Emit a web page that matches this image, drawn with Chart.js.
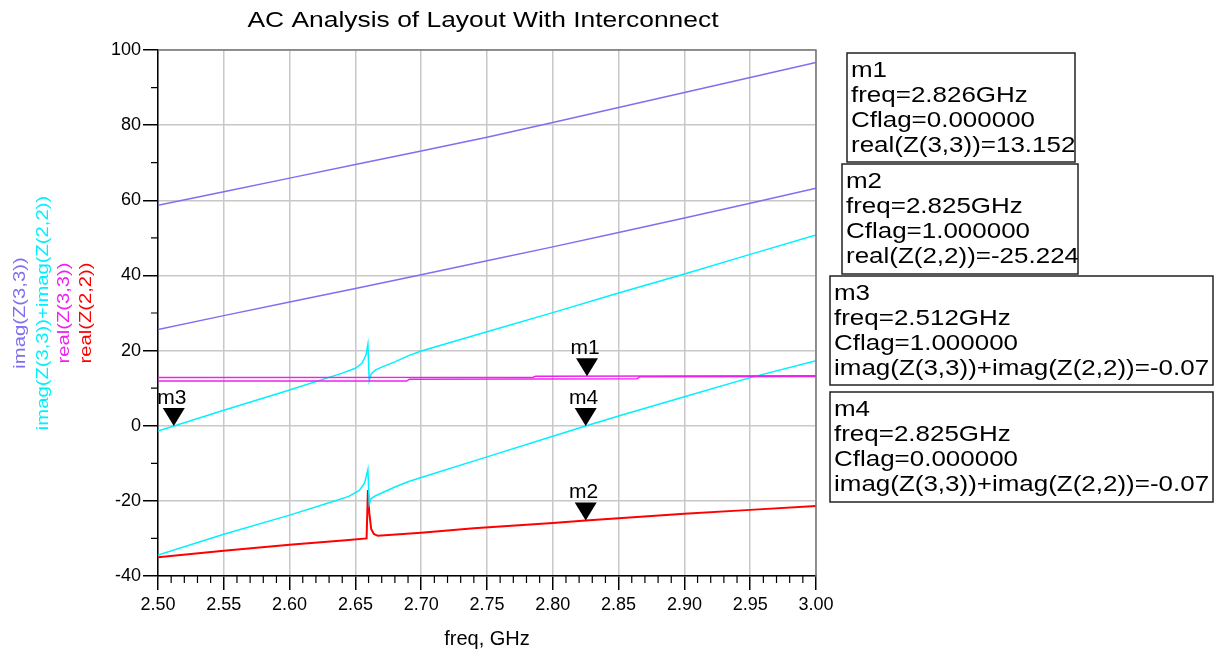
<!DOCTYPE html>
<html>
<head>
<meta charset="utf-8">
<script src="https://cdn.jsdelivr.net/npm/chart.js@4"></script>
<style>
  body { margin: 0; background: #fff; }
  #wrap { width: 1222px; height: 653px; }
</style>
</head>
<body>
<div id="wrap"><canvas id="acChart" width="1222" height="653"></canvas></div>
<script>
// Chart text
const chartTitle = 'AC Analysis of Layout With Interconnect';
const xTitle = 'freq, GHz';
const legendLabels = ['imag(Z(3,3))', 'imag(Z(3,3))+imag(Z(2,2))', 'real(Z(3,3))', 'real(Z(2,2))'];

// imag(Z(3,3)) for both Cflag values
const freqCoarse = [2.50, 2.55, 2.60, 2.65, 2.70, 2.75, 2.80, 2.85, 2.90, 2.95, 3.00];
const imag33Cf0 = [58.7, 62.3, 65.9, 69.5, 73.1, 76.8, 80.7, 84.7, 88.7, 92.7, 96.7];
const imag33Cf1 = [25.6, 29.3, 32.9, 36.5, 40.2, 43.9, 47.6, 51.4, 55.3, 59.2, 63.2];

// imag(Z(3,3))+imag(Z(2,2))
const sumFreqCf1 = [2.50, 2.55, 2.60, 2.64, 2.65, 2.655, 2.658, 2.6595, 2.6605, 2.662, 2.665, 2.67, 2.68, 2.69, 2.70, 2.75, 2.80, 2.85, 2.90, 2.95, 3.00];
const sumCf1 = [-1.4, 4.1, 9.5, 14.0, 15.3, 16.6, 18.8, 21.7, 12.0, 13.8, 14.8, 15.6, 17.0, 18.6, 19.9, 25.0, 30.1, 35.3, 40.4, 45.6, 50.8];
const sumFreqCf0 = [2.50, 2.55, 2.60, 2.63, 2.645, 2.653, 2.657, 2.6595, 2.6605, 2.662, 2.665, 2.67, 2.68, 2.69, 2.70, 2.75, 2.80, 2.825, 2.85, 2.90, 2.95, 3.00];
const sumCf0 = [-34.4, -28.9, -23.8, -20.5, -18.8, -17.2, -15.2, -11.6, -20.9, -19.4, -18.7, -17.9, -16.3, -14.9, -13.8, -8.3, -2.8, -0.07, 2.6, 7.7, 12.8, 17.3];

// real(Z(3,3))
const real33FreqCf0 = [2.50, 2.785, 2.787, 3.00];
const real33Cf0 = [12.8, 12.9, 13.15, 13.3];
const real33FreqCf1 = [2.50, 2.689, 2.691, 2.864, 2.866, 3.00];
const real33Cf1 = [11.9, 11.9, 12.4, 12.5, 13.0, 13.1];

// real(Z(2,2))
const real22Freq = [2.50, 2.55, 2.60, 2.645, 2.6585, 2.6595, 2.6605, 2.662, 2.664, 2.667, 2.70, 2.74, 2.80, 2.825, 2.85, 2.90, 2.95, 3.00];
const real22 = [-35.0, -33.3, -31.7, -30.4, -30.0, -17.1, -23.0, -27.5, -28.8, -29.3, -28.5, -27.3, -25.9, -25.2, -24.6, -23.4, -22.4, -21.4];

// markers
const markerNames = ['m1', 'm2', 'm3', 'm4'];
const markerFreq = [2.826, 2.825, 2.512, 2.825];
const markerCflag = ['0.000000', '1.000000', '1.000000', '0.000000'];
const markerExpr = ['real(Z(3,3))', 'real(Z(2,2))', 'imag(Z(3,3))+imag(Z(2,2))', 'imag(Z(3,3))+imag(Z(2,2))'];
const markerValue = [13.152, -25.224, -0.07, -0.07];

const colPurple = '#7f6ff0';
const colCyan = '#00f0ff';
const colMagenta = '#f020f0';
const colRed = '#ff0000';
const FONT = "'Liberation Sans', Arial, sans-serif";

const pts = (xs, ys) => xs.map((x, i) => ({ x: x, y: ys[i] }));

const line = (data, color, width) => ({
    data: data,
    borderColor: color,
    backgroundColor: color,
    borderWidth: width || 1.5,
    pointRadius: 0,
    tension: 0,
    fill: false
});

// stretched text helper (the original renders wider glyphs)
const wideText = (ctx, text, x, y, size, sx, align) => {
    ctx.save();
    ctx.font = size + 'px ' + FONT;
    ctx.textAlign = align || 'left';
    ctx.translate(x, y);
    ctx.scale(sx, 1);
    ctx.fillText(text, 0, 0);
    ctx.restore();
};

const boxLayout = [
    { x: 847, y: 53, w: 228, h: 109 },
    { x: 842, y: 164, w: 236, h: 110 },
    { x: 830, y: 276, w: 383, h: 109 },
    { x: 830, y: 392, w: 383, h: 110 }
];

const decorPlugin = {
    id: 'decor',
    afterDraw(chart) {
        const ctx = chart.ctx;
        const a = chart.chartArea;
        const xs = chart.scales.x;
        const ys = chart.scales.y;

        // frame: top and right in gray
        ctx.save();
        ctx.strokeStyle = '#777';
        ctx.lineWidth = 1.5;
        ctx.beginPath();
        ctx.moveTo(a.left, a.top);
        ctx.lineTo(a.right, a.top);
        ctx.lineTo(a.right, a.bottom);
        ctx.stroke();

        // minor ticks
        ctx.strokeStyle = '#000';
        ctx.lineWidth = 1.2;
        ctx.beginPath();
        for (let i = 0; i <= 50; i++) {
            if (i % 5 === 0) continue;
            const px = xs.getPixelForValue(2.5 + i * 0.01);
            ctx.moveTo(px, a.bottom);
            ctx.lineTo(px, a.bottom + 7);
        }
        for (let v = -30; v < 100; v += 20) {
            const py = ys.getPixelForValue(v);
            ctx.moveTo(a.left - 7, py);
            ctx.lineTo(a.left, py);
        }
        ctx.stroke();
        ctx.restore();

        // title and x title
        ctx.save();
        ctx.fillStyle = '#000';
        ctx.textBaseline = 'alphabetic';
        wideText(ctx, chartTitle, (a.left + a.right) / 2 - 4, 27, 22, 1.2, 'center');
        wideText(ctx, xTitle, (a.left + a.right) / 2, 645, 20, 1.0, 'center');
        ctx.restore();

        // rotated coloured y legend
        const legendCols = [colPurple, colCyan, colMagenta, colRed];
        const legendX = [20, 43, 64, 86];
        const midY = (a.top + a.bottom) / 2;
        legendLabels.forEach((txt, i) => {
            ctx.save();
            ctx.translate(legendX[i], midY);
            ctx.rotate(-Math.PI / 2);
            ctx.fillStyle = legendCols[i];
            ctx.textBaseline = 'middle';
            wideText(ctx, txt, 0, 0, 17, 1.19, 'center');
            ctx.restore();
        });

        // marker triangles and labels
        markerNames.forEach((name, i) => {
            const px = xs.getPixelForValue(markerFreq[i]);
            const py = ys.getPixelForValue(markerValue[i]);
            ctx.save();
            ctx.fillStyle = '#000';
            ctx.beginPath();
            ctx.moveTo(px, py);
            ctx.lineTo(px - 11, py - 18);
            ctx.lineTo(px + 11, py - 18);
            ctx.closePath();
            ctx.fill();
            ctx.font = '21px ' + FONT;
            ctx.textAlign = 'center';
            ctx.fillText(name, px - 2, py - 22);
            ctx.restore();
        });

        // marker readout boxes
        markerNames.forEach((name, i) => {
            const b = boxLayout[i];
            const lines = [
                name,
                'freq=' + markerFreq[i].toFixed(3) + 'GHz',
                'Cflag=' + markerCflag[i],
                markerExpr[i] + '=' + markerValue[i]
            ];
            ctx.save();
            ctx.fillStyle = '#fff';
            ctx.fillRect(b.x, b.y, b.w, b.h);
            ctx.beginPath();
            ctx.rect(b.x, b.y, b.w, b.h);
            ctx.clip();
            ctx.fillStyle = '#000';
            lines.forEach((t, k) => wideText(ctx, t, b.x + 4, b.y + 24 + k * 25, 22, 1.18, 'left'));
            ctx.restore();
            ctx.save();
            ctx.strokeStyle = '#222';
            ctx.lineWidth = 1.5;
            ctx.strokeRect(b.x, b.y, b.w, b.h);
            ctx.restore();
        });
    }
};

const ctx = document.getElementById('acChart').getContext('2d');
const acChart = new Chart(ctx, {
    type: 'line',
    data: {
        datasets: [
            line(pts(freqCoarse, imag33Cf0), colPurple),
            line(pts(freqCoarse, imag33Cf1), colPurple),
            line(pts(real33FreqCf0, real33Cf0), colMagenta),
            line(pts(real33FreqCf1, real33Cf1), colMagenta),
            line(pts(sumFreqCf1, sumCf1), colCyan),
            line(pts(sumFreqCf0, sumCf0), colCyan),
            line(pts(real22Freq, real22), colRed, 2)
        ]
    },
    options: {
        responsive: false,
        animation: false,
        devicePixelRatio: 1,
        layout: { padding: { top: 50, right: 406, left: 0, bottom: 0 } },
        plugins: {
            legend: { display: false },
            tooltip: { enabled: false },
            title: { display: false }
        },
        scales: {
            x: {
                type: 'linear',
                min: 2.5,
                max: 3.0,
                ticks: {
                    stepSize: 0.05,
                    color: '#000',
                    font: { family: FONT, size: 18 },
                    padding: 4,
                    maxRotation: 0,
                    callback: v => Number(v).toFixed(2)
                },
                grid: { color: '#c8c8c8', lineWidth: 1.5, tickColor: '#000', tickLength: 14 },
                border: { color: '#000', width: 1.5 },
                afterFit: s => { s.height = 77; }
            },
            y: {
                min: -40,
                max: 100,
                ticks: {
                    stepSize: 20,
                    color: '#000',
                    font: { family: FONT, size: 18 },
                    padding: 2
                },
                grid: { color: '#c8c8c8', lineWidth: 1.5, tickColor: '#000', tickLength: 15 },
                border: { color: '#000', width: 1.5 },
                afterFit: s => { s.width = 158; }
            }
        }
    },
    plugins: [decorPlugin]
});
</script>
</body>
</html>
